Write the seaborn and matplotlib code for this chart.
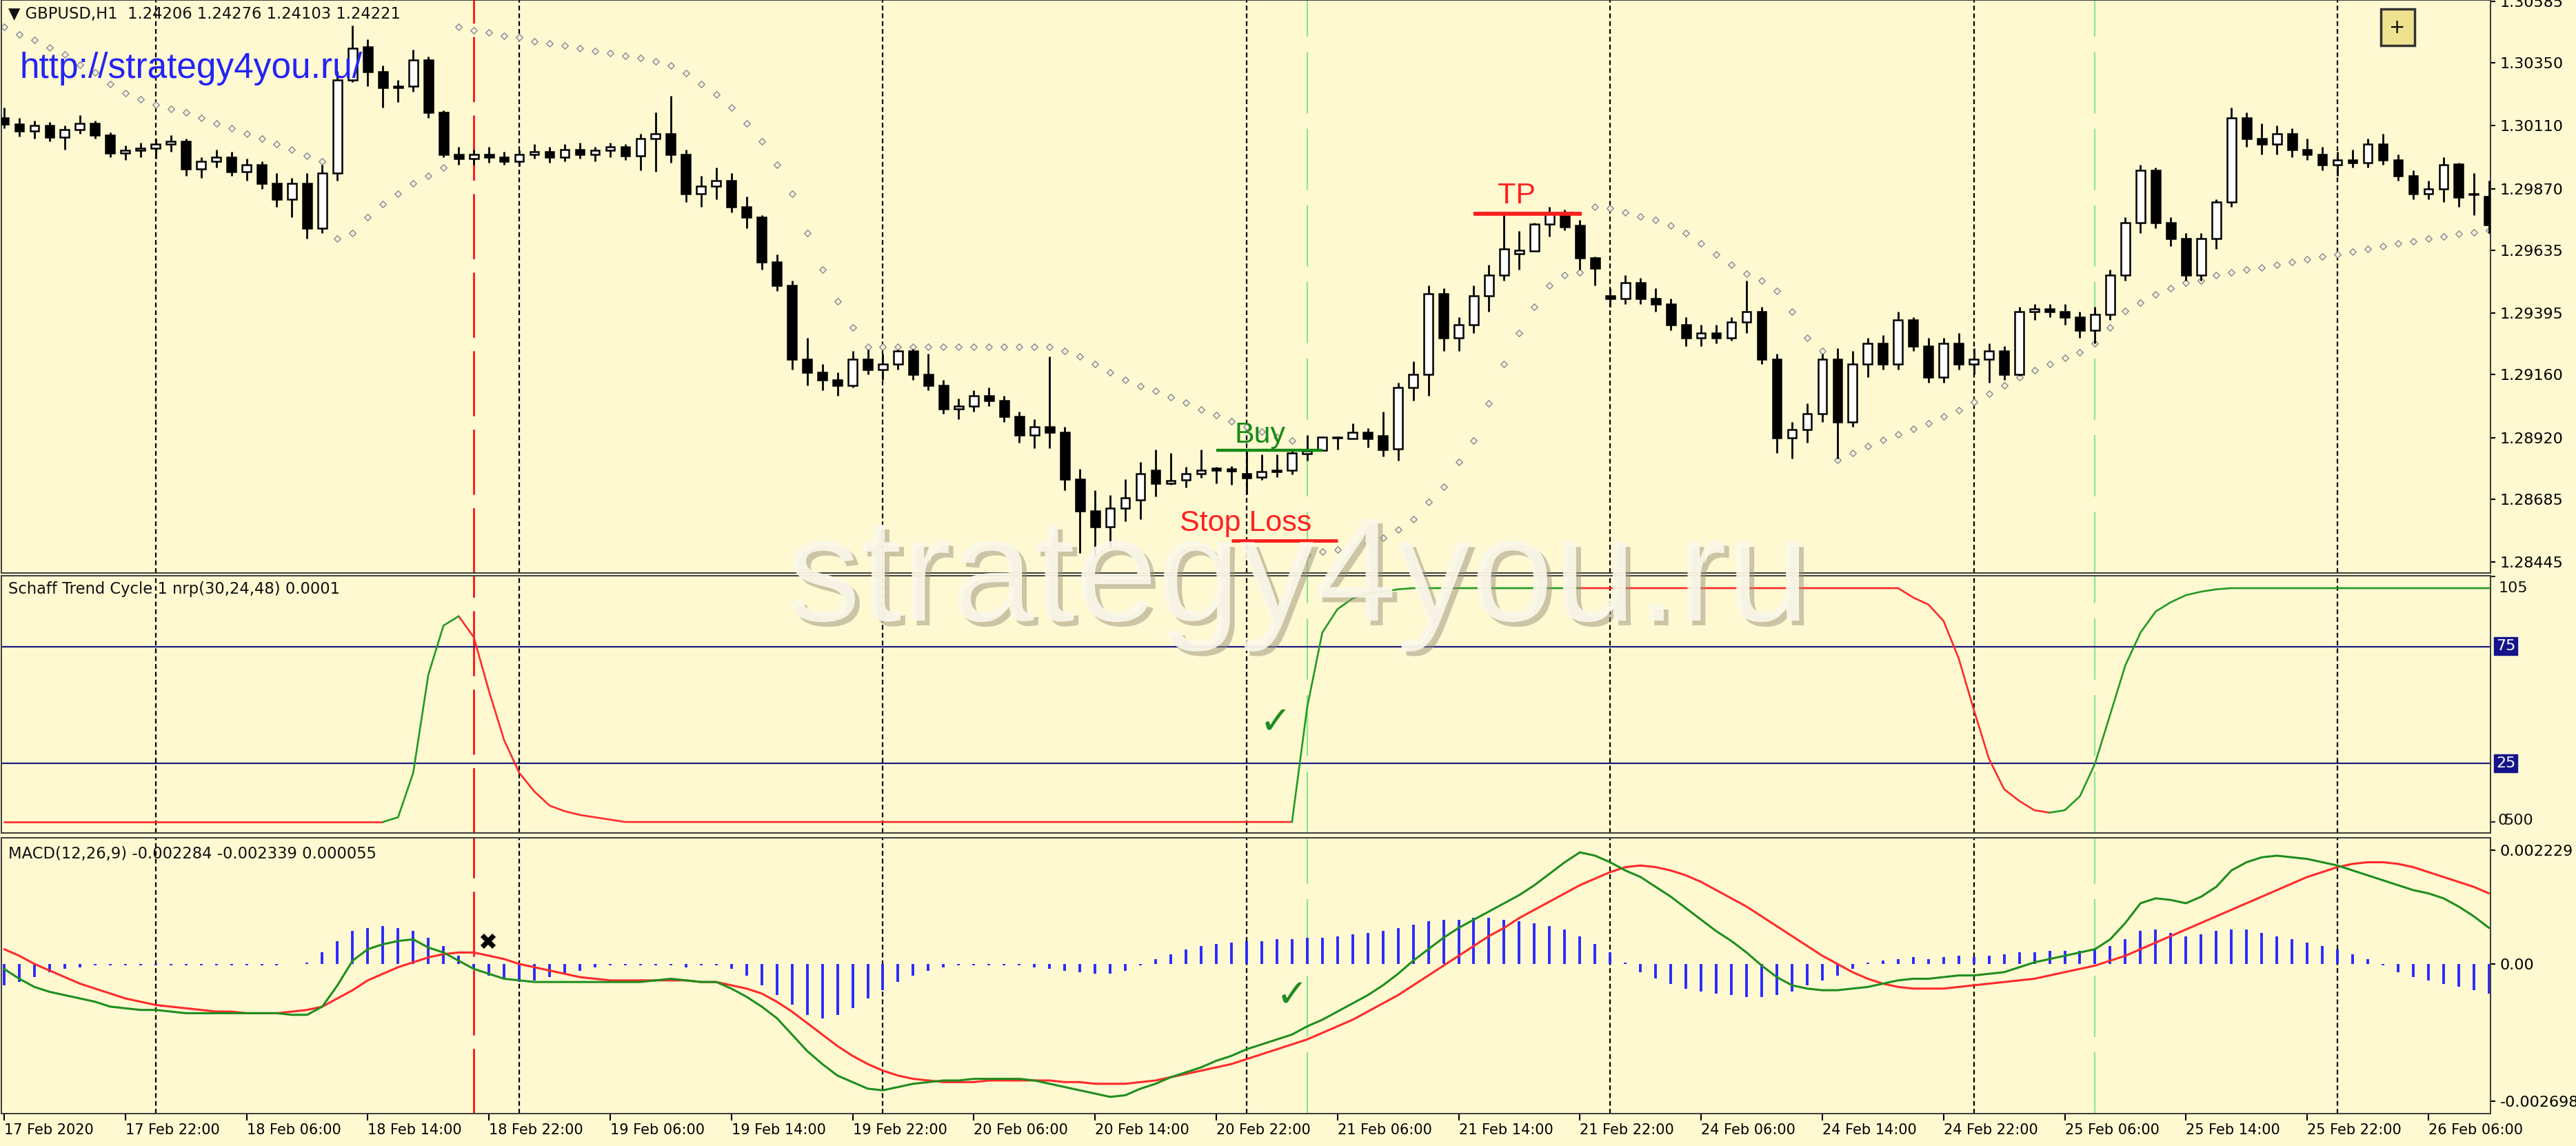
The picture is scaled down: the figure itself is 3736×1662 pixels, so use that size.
import numpy as np
import pandas as pd
import matplotlib
matplotlib.use("Agg")
import matplotlib.pyplot as plt
import matplotlib.patheffects as pe
from matplotlib.patches import Rectangle
import seaborn as sns

# ---------------- data ----------------
tick_labels = ["17 Feb 2020", "17 Feb 22:00", "18 Feb 06:00", "18 Feb 14:00", "18 Feb 22:00",
               "19 Feb 06:00", "19 Feb 14:00", "19 Feb 22:00", "20 Feb 06:00", "20 Feb 14:00",
               "20 Feb 22:00", "21 Feb 06:00", "21 Feb 14:00", "21 Feb 22:00", "24 Feb 06:00",
               "24 Feb 14:00", "24 Feb 22:00", "25 Feb 06:00", "25 Feb 14:00", "25 Feb 22:00",
               "26 Feb 06:00"]
tick_bars = [0, 8, 16, 24, 32, 40, 48, 56, 64, 72, 80, 88, 96, 104, 112, 120, 128, 136, 144, 152, 160]

opens = [
    1.30140, 1.30115, 1.30090, 1.30110, 1.30065, 1.30095, 1.30120, 1.30075, 1.30005, 1.30015,
    1.30025, 1.30040, 1.30050, 1.29945, 1.29975, 1.29990, 1.29935, 1.29960, 1.29890, 1.29830,
    1.29890, 1.29720, 1.29930, 1.30286, 1.30411, 1.30316, 1.30255, 1.30260, 1.30360, 1.30160,
    1.30000, 1.29985, 1.30000, 1.29990, 1.29975, 1.30000, 1.30010, 1.29990, 1.30020, 1.30000,
    1.30015, 1.30030, 1.29995, 1.30060, 1.30080, 1.30000, 1.29850, 1.29880, 1.29900, 1.29800,
    1.29760, 1.29590, 1.29500, 1.29220, 1.29170, 1.29140, 1.29120, 1.29220, 1.29180, 1.29200,
    1.29250, 1.29160, 1.29120, 1.29030, 1.29040, 1.29080, 1.29060, 1.29000, 1.28930, 1.28960,
    1.28940, 1.28760, 1.28640, 1.28580, 1.28650, 1.28683, 1.28794, 1.28744, 1.28757, 1.28783,
    1.28802, 1.28800, 1.28783, 1.28770, 1.28791, 1.28796, 1.28857, 1.28871, 1.28921, 1.28915,
    1.28939, 1.28926, 1.28878, 1.29111, 1.29160, 1.29470, 1.29300, 1.29350, 1.29460, 1.29540,
    1.29621, 1.29631, 1.29734, 1.29774, 1.29729, 1.29605, 1.29460, 1.29450, 1.29510, 1.29450,
    1.29430, 1.29350, 1.29300, 1.29320, 1.29300, 1.29360, 1.29400, 1.29220, 1.28920, 1.28950,
    1.29010, 1.29220, 1.28980, 1.29200, 1.29280, 1.29200, 1.29370, 1.29270, 1.29150, 1.29280,
    1.29200, 1.29220, 1.29250, 1.29160, 1.29400, 1.29410, 1.29400, 1.29380, 1.29330, 1.29390,
    1.29540, 1.29740, 1.29940, 1.29740, 1.29680, 1.29540, 1.29680, 1.29820, 1.30140, 1.30060,
    1.30040, 1.30080, 1.30020, 1.30000, 1.29960, 1.29980, 1.29970, 1.30040, 1.29980, 1.29920,
    1.29850, 1.29870, 1.29964, 1.29848, 1.29840]
highs = [
    1.30180, 1.30140, 1.30130, 1.30125, 1.30110, 1.30150, 1.30130, 1.30085, 1.30035, 1.30045,
    1.30060, 1.30075, 1.30060, 1.29990, 1.30020, 1.30010, 1.29985, 1.29975, 1.29930, 1.29910,
    1.29930, 1.29960, 1.30320, 1.30493, 1.30440, 1.30340, 1.30285, 1.30400, 1.30375, 1.30170,
    1.30030, 1.30020, 1.30030, 1.30010, 1.30015, 1.30040, 1.30030, 1.30040, 1.30045, 1.30030,
    1.30045, 1.30040, 1.30080, 1.30160, 1.30225, 1.30020, 1.29920, 1.29950, 1.29930, 1.29840,
    1.29770, 1.29620, 1.29520, 1.29300, 1.29200, 1.29170, 1.29250, 1.29255, 1.29240, 1.29255,
    1.29258, 1.29240, 1.29140, 1.29070, 1.29100, 1.29110, 1.29080, 1.29020, 1.28990, 1.29230,
    1.28960, 1.28800, 1.28720, 1.28700, 1.28760, 1.28828, 1.28873, 1.28862, 1.28807, 1.28873,
    1.28807, 1.28810, 1.28873, 1.28855, 1.28855, 1.28870, 1.28929, 1.28925, 1.28925, 1.28974,
    1.28955, 1.29018, 1.29130, 1.29210, 1.29500, 1.29490, 1.29380, 1.29500, 1.29580, 1.29774,
    1.29708, 1.29740, 1.29800, 1.29790, 1.29750, 1.29610, 1.29490, 1.29540, 1.29530, 1.29490,
    1.29450, 1.29380, 1.29350, 1.29350, 1.29380, 1.29520, 1.29420, 1.29240, 1.28980, 1.29050,
    1.29240, 1.29260, 1.29250, 1.29300, 1.29310, 1.29400, 1.29380, 1.29300, 1.29300, 1.29320,
    1.29260, 1.29280, 1.29270, 1.29420, 1.29430, 1.29430, 1.29430, 1.29400, 1.29420, 1.29560,
    1.29760, 1.29960, 1.29950, 1.29760, 1.29700, 1.29700, 1.29830, 1.30180, 1.30160, 1.30120,
    1.30110, 1.30100, 1.30060, 1.30030, 1.30010, 1.30020, 1.30060, 1.30080, 1.30000, 1.29940,
    1.29900, 1.29990, 1.29970, 1.29930, 1.29900]
lows = [
    1.30100, 1.30070, 1.30060, 1.30050, 1.30020, 1.30080, 1.30060, 1.29990, 1.29980, 1.29990,
    1.29985, 1.30010, 1.29920, 1.29910, 1.29950, 1.29920, 1.29900, 1.29870, 1.29800, 1.29760,
    1.29680, 1.29700, 1.29900, 1.30276, 1.30260, 1.30180, 1.30200, 1.30240, 1.30140, 1.29990,
    1.29960, 1.29960, 1.29970, 1.29960, 1.29955, 1.29985, 1.29970, 1.29975, 1.29985, 1.29975,
    1.29990, 1.29980, 1.29940, 1.29935, 1.29970, 1.29820, 1.29800, 1.29830, 1.29780, 1.29720,
    1.29560, 1.29480, 1.29180, 1.29120, 1.29100, 1.29080, 1.29110, 1.29160, 1.29140, 1.29180,
    1.29140, 1.29100, 1.29010, 1.28990, 1.29020, 1.29040, 1.28980, 1.28900, 1.28880, 1.28880,
    1.28720, 1.28480, 1.28470, 1.28500, 1.28600, 1.28609, 1.28696, 1.28741, 1.28730, 1.28767,
    1.28744, 1.28740, 1.28704, 1.28757, 1.28770, 1.28780, 1.28833, 1.28871, 1.28873, 1.28915,
    1.28881, 1.28847, 1.28833, 1.29060, 1.29080, 1.29250, 1.29250, 1.29320, 1.29400, 1.29520,
    1.29560, 1.29631, 1.29687, 1.29710, 1.29560, 1.29500, 1.29420, 1.29430, 1.29430, 1.29400,
    1.29330, 1.29270, 1.29270, 1.29280, 1.29290, 1.29320, 1.29200, 1.28860, 1.28840, 1.28900,
    1.28980, 1.28840, 1.28960, 1.29150, 1.29180, 1.29180, 1.29250, 1.29130, 1.29130, 1.29180,
    1.29160, 1.29130, 1.29140, 1.29155, 1.29370, 1.29380, 1.29350, 1.29300, 1.29280, 1.29370,
    1.29520, 1.29700, 1.29720, 1.29650, 1.29520, 1.29520, 1.29640, 1.29800, 1.30030, 1.30000,
    1.30000, 1.29990, 1.29980, 1.29940, 1.29920, 1.29950, 1.29950, 1.29960, 1.29900, 1.29830,
    1.29830, 1.29820, 1.29800, 1.29770, 1.29700]
closes = [
    1.30115, 1.30090, 1.30110, 1.30065, 1.30095, 1.30120, 1.30075, 1.30005, 1.30015, 1.30025,
    1.30040, 1.30050, 1.29945, 1.29975, 1.29990, 1.29935, 1.29960, 1.29890, 1.29830, 1.29890,
    1.29720, 1.29930, 1.30286, 1.30405, 1.30316, 1.30255, 1.30262, 1.30360, 1.30160, 1.30000,
    1.29985, 1.30000, 1.29990, 1.29975, 1.30000, 1.30010, 1.29990, 1.30020, 1.30000, 1.30015,
    1.30030, 1.29995, 1.30060, 1.30080, 1.30000, 1.29850, 1.29880, 1.29900, 1.29800, 1.29760,
    1.29590, 1.29500, 1.29220, 1.29170, 1.29140, 1.29120, 1.29220, 1.29180, 1.29200, 1.29250,
    1.29160, 1.29120, 1.29030, 1.29040, 1.29080, 1.29060, 1.29000, 1.28930, 1.28960, 1.28940,
    1.28760, 1.28640, 1.28580, 1.28650, 1.28690, 1.28783, 1.28744, 1.28755, 1.28783, 1.28794,
    1.28794, 1.28792, 1.28767, 1.28791, 1.28796, 1.28860, 1.28868, 1.28921, 1.28919, 1.28939,
    1.28915, 1.28873, 1.29111, 1.29160, 1.29470, 1.29300, 1.29350, 1.29460, 1.29540, 1.29640,
    1.29634, 1.29734, 1.29774, 1.29724, 1.29607, 1.29565, 1.29450, 1.29510, 1.29450, 1.29430,
    1.29350, 1.29300, 1.29320, 1.29300, 1.29360, 1.29400, 1.29220, 1.28920, 1.28950, 1.29010,
    1.29220, 1.28980, 1.29200, 1.29280, 1.29200, 1.29370, 1.29270, 1.29150, 1.29280, 1.29200,
    1.29220, 1.29250, 1.29160, 1.29400, 1.29410, 1.29400, 1.29380, 1.29330, 1.29390, 1.29540,
    1.29740, 1.29940, 1.29740, 1.29680, 1.29540, 1.29680, 1.29820, 1.30140, 1.30060, 1.30040,
    1.30080, 1.30020, 1.30000, 1.29960, 1.29980, 1.29970, 1.30040, 1.29980, 1.29920, 1.29850,
    1.29870, 1.29960, 1.29838, 1.29848, 1.29732]

sar = [
    1.30487, 1.30458, 1.30437, 1.30408, 1.30382, 1.30342, 1.30313, 1.30268, 1.30234, 1.30210,
    1.30190, 1.30175, 1.30160, 1.30140, 1.30120, 1.30100, 1.30080, 1.30060, 1.30040, 1.30020,
    1.29995, 1.29975, 1.29680, 1.29700, 1.29760, 1.29810, 1.29850, 1.29890, 1.29920, 1.29950,
    1.30487, 1.30474, 1.30466, 1.30453, 1.30448, 1.30432, 1.30424, 1.30416, 1.30405, 1.30395,
    1.30387, 1.30378, 1.30369, 1.30355, 1.30340, 1.30310, 1.30270, 1.30230, 1.30180, 1.30120,
    1.30050, 1.29960, 1.29850, 1.29700, 1.29560, 1.29440, 1.29340, 1.29265, 1.29265, 1.29265,
    1.29265, 1.29265, 1.29265, 1.29265, 1.29265, 1.29265, 1.29265, 1.29265, 1.29265, 1.29265,
    1.29250, 1.29230, 1.29200, 1.29170, 1.29140, 1.29115, 1.29098, 1.29074, 1.29053, 1.29026,
    1.29005, 1.28981, 1.28960, 1.28942, 1.28921, 1.28907, 1.28471, 1.28485, 1.28493, 1.28503,
    1.28516, 1.28537, 1.28569, 1.28609, 1.28675, 1.28733, 1.28828, 1.28907, 1.29050, 1.29200,
    1.29320, 1.29420, 1.29500, 1.29540, 1.29550, 1.29800, 1.29795, 1.29779, 1.29763, 1.29750,
    1.29730, 1.29700, 1.29660, 1.29620, 1.29580, 1.29545, 1.29520, 1.29480, 1.29400, 1.29300,
    1.29250, 1.28835, 1.28860, 1.28887, 1.28910, 1.28931, 1.28953, 1.28975, 1.29000, 1.29025,
    1.29055, 1.29088, 1.29120, 1.29150, 1.29176, 1.29201, 1.29223, 1.29245, 1.29280, 1.29340,
    1.29403, 1.29435, 1.29466, 1.29490, 1.29510, 1.29520, 1.29540, 1.29550, 1.29560, 1.29570,
    1.29580, 1.29590, 1.29600, 1.29610, 1.29620, 1.29630, 1.29640, 1.29650, 1.29660, 1.29670,
    1.29680, 1.29688, 1.29697, 1.29702, 1.29710]

stc = [
    0, 0, 0, 0, 0, 0, 0, 0, 0, 0,
    0, 0, 0, 0, 0, 0, 0, 0, 0, 0,
    0, 0, 0, 0, 0, 0, 2, 21, 63, 84,
    88, 79, 56, 35, 21, 13, 7, 4.6, 3, 2,
    1, 0, 0, 0, 0, 0, 0, 0, 0, 0,
    0, 0, 0, 0, 0, 0, 0, 0, 0, 0,
    0, 0, 0, 0, 0, 0, 0, 0, 0, 0,
    0, 0, 0, 0, 0, 0, 0, 0, 0, 0,
    0, 0, 0, 0, 0, 0, 49, 81, 91, 95.6,
    98, 98.5, 99.5, 100, 100, 100, 100, 100, 100, 100,
    100, 100, 100, 100, 100, 100, 100, 100, 100, 100,
    100, 100, 100, 100, 100, 100, 100, 100, 100, 100,
    100, 100, 100, 100, 100, 100, 96, 93, 86, 70,
    48, 27, 14, 9, 5, 4, 5, 11, 25, 46,
    67, 81, 90, 94, 97, 98.5, 99.5, 100, 100, 100,
    100, 100, 100, 100, 100, 100, 100, 100, 100, 100,
    100, 100, 100, 100, 100]
stc_green_ranges = [(25, 30), (85, 104), (135, 164)]
stc_red_ranges = [(0, 25), (30, 85), (104, 135)]

macd_main = [
    -0.000097, -0.000290, -0.000451, -0.000547, -0.000612, -0.000676, -0.000741, -0.000837, -0.000869, -0.000902,
    -0.000902, -0.000934, -0.000966, -0.000966, -0.000966, -0.000966, -0.000966, -0.000966, -0.000966, -0.000998,
    -0.000998, -0.000837, -0.000419, 0.000064, 0.000290, 0.000386, 0.000451, 0.000483, 0.000322, 0.000225,
    0.000064, -0.000097, -0.000193, -0.000290, -0.000322, -0.000354, -0.000354, -0.000354, -0.000354, -0.000354,
    -0.000354, -0.000354, -0.000354, -0.000322, -0.000290, -0.000322, -0.000354, -0.000354, -0.000483, -0.000644,
    -0.000837, -0.001063, -0.001385, -0.001707, -0.001964, -0.002190, -0.002318, -0.002447, -0.002479, -0.002415,
    -0.002351, -0.002318, -0.002286, -0.002286, -0.002254, -0.002254, -0.002254, -0.002254, -0.002286, -0.002351,
    -0.002415, -0.002479, -0.002544, -0.002608, -0.002576, -0.002447, -0.002351, -0.002222, -0.002125, -0.002029,
    -0.001900, -0.001803, -0.001674, -0.001578, -0.001481, -0.001385, -0.001224, -0.001095, -0.000934, -0.000773,
    -0.000612, -0.000419, -0.000193, 0.000064, 0.000290, 0.000515, 0.000708, 0.000869, 0.001030, 0.001191,
    0.001352, 0.001546, 0.001771, 0.001996, 0.002190, 0.002125, 0.001996, 0.001835, 0.001707, 0.001513,
    0.001320, 0.001095, 0.000869, 0.000644, 0.000451, 0.000225, -0.000032, -0.000258, -0.000419, -0.000483,
    -0.000515, -0.000515, -0.000483, -0.000451, -0.000386, -0.000322, -0.000290, -0.000290, -0.000258, -0.000225,
    -0.000225, -0.000193, -0.000161, -0.000064, 0.000032, 0.000097, 0.000161, 0.000225, 0.000290, 0.000483,
    0.000805, 0.001191, 0.001288, 0.001256, 0.001191, 0.001320, 0.001513, 0.001835, 0.001996, 0.002093,
    0.002125, 0.002093, 0.002061, 0.001996, 0.001932, 0.001835, 0.001739, 0.001642, 0.001546, 0.001449,
    0.001385, 0.001288, 0.001127, 0.000934, 0.000708]
macd_signal = [
    0.000290, 0.000161, 0.000000, -0.000129, -0.000258, -0.000386, -0.000483, -0.000580, -0.000676, -0.000741,
    -0.000805, -0.000837, -0.000869, -0.000902, -0.000934, -0.000934, -0.000966, -0.000966, -0.000966, -0.000934,
    -0.000902, -0.000837, -0.000676, -0.000515, -0.000322, -0.000193, -0.000064, 0.000032, 0.000129, 0.000193,
    0.000225, 0.000225, 0.000161, 0.000097, 0.000000, -0.000064, -0.000129, -0.000193, -0.000258, -0.000290,
    -0.000322, -0.000322, -0.000322, -0.000322, -0.000322, -0.000322, -0.000354, -0.000354, -0.000419, -0.000483,
    -0.000580, -0.000741, -0.000934, -0.001159, -0.001385, -0.001610, -0.001803, -0.001964, -0.002093, -0.002190,
    -0.002254, -0.002286, -0.002318, -0.002318, -0.002318, -0.002286, -0.002286, -0.002286, -0.002286, -0.002286,
    -0.002318, -0.002318, -0.002351, -0.002351, -0.002351, -0.002318, -0.002286, -0.002222, -0.002157, -0.002093,
    -0.002029, -0.001964, -0.001868, -0.001771, -0.001674, -0.001578, -0.001481, -0.001352, -0.001224, -0.001095,
    -0.000934, -0.000773, -0.000612, -0.000419, -0.000225, -0.000032, 0.000161, 0.000354, 0.000547, 0.000708,
    0.000902, 0.001063, 0.001224, 0.001385, 0.001546, 0.001674, 0.001803, 0.001900, 0.001932, 0.001900,
    0.001835, 0.001739, 0.001610, 0.001449, 0.001288, 0.001127, 0.000934, 0.000741, 0.000547, 0.000354,
    0.000161, 0.000000, -0.000161, -0.000290, -0.000386, -0.000451, -0.000483, -0.000483, -0.000483, -0.000451,
    -0.000419, -0.000386, -0.000354, -0.000322, -0.000290, -0.000225, -0.000161, -0.000097, -0.000032, 0.000064,
    0.000161, 0.000290, 0.000419, 0.000547, 0.000676, 0.000805, 0.000934, 0.001063, 0.001191, 0.001320,
    0.001449, 0.001578, 0.001707, 0.001803, 0.001900, 0.001964, 0.001996, 0.001996, 0.001964, 0.001900,
    0.001803, 0.001707, 0.001610, 0.001513, 0.001385]
macd_hist = [
    -0.000419, -0.000354, -0.000258, -0.000161, -0.000097, -0.000064, -0.000032, -0.000032, -0.000032, -0.000032,
    -0.000032, -0.000032, -0.000032, -0.000032, -0.000032, -0.000032, -0.000032, -0.000032, -0.000032, 0.000000,
    0.000032, 0.000225, 0.000451, 0.000644, 0.000708, 0.000741, 0.000708, 0.000644, 0.000515, 0.000354,
    0.000161, -0.000097, -0.000225, -0.000290, -0.000354, -0.000322, -0.000258, -0.000193, -0.000129, -0.000064,
    -0.000032, -0.000032, -0.000032, -0.000032, -0.000032, -0.000064, -0.000032, -0.000032, -0.000097, -0.000225,
    -0.000419, -0.000612, -0.000805, -0.000998, -0.001063, -0.000998, -0.000869, -0.000676, -0.000515, -0.000354,
    -0.000225, -0.000129, -0.000064, -0.000032, -0.000032, -0.000032, -0.000032, -0.000032, -0.000064, -0.000097,
    -0.000129, -0.000161, -0.000193, -0.000193, -0.000129, -0.000032, 0.000097, 0.000193, 0.000290, 0.000354,
    0.000386, 0.000419, 0.000451, 0.000451, 0.000483, 0.000483, 0.000515, 0.000515, 0.000547, 0.000580,
    0.000612, 0.000644, 0.000708, 0.000773, 0.000837, 0.000869, 0.000869, 0.000902, 0.000902, 0.000869,
    0.000837, 0.000805, 0.000741, 0.000676, 0.000547, 0.000386, 0.000225, 0.000032, -0.000161, -0.000290,
    -0.000386, -0.000483, -0.000547, -0.000580, -0.000612, -0.000644, -0.000644, -0.000612, -0.000547, -0.000419,
    -0.000322, -0.000225, -0.000097, 0.000032, 0.000064, 0.000097, 0.000129, 0.000097, 0.000129, 0.000161,
    0.000129, 0.000161, 0.000193, 0.000225, 0.000225, 0.000258, 0.000258, 0.000258, 0.000290, 0.000354,
    0.000483, 0.000644, 0.000676, 0.000612, 0.000547, 0.000580, 0.000644, 0.000676, 0.000676, 0.000612,
    0.000547, 0.000483, 0.000419, 0.000354, 0.000290, 0.000193, 0.000097, -0.000032, -0.000161, -0.000258,
    -0.000322, -0.000386, -0.000451, -0.000515, -0.000580]

separators = [10, 34, 58, 82, 106, 130, 154]
red_marker_bar = 31
green_marker_bars = [86, 138]
price_ticks = [1.30585, 1.30350, 1.30110, 1.29870, 1.29635, 1.29395, 1.29160, 1.28920, 1.28685, 1.28445]
macd_ticks = [0.002229, 0.0, -0.002698]
macd_tick_labels = ["0.002229", "0.00", "-0.002698"]
buy_level, buy_span = 1.28872, (80.0, 87.0)
stop_level, stop_span = 1.28527, (81.0, 88.0)
tp_level, tp_span = 1.29774, (97.0, 104.1)

# ---------------- figure ----------------
W, H = 3736, 1662
BG = "#FFF9D2"
sns.set_theme(style="white", rc={"axes.facecolor": BG, "figure.facecolor": BG})
plt.rcParams["font.family"] = ["DejaVu Sans"]

fig = plt.figure(figsize=(W / 100, H / 100), dpi=100)
fig.patch.set_facecolor(BG)


def add_ax(l, t, r, b):
    return fig.add_axes([l / W, 1 - b / H, (r - l) / W, (b - t) / H])


def ftext(x, y, s, **kw):
    return fig.text(x / W, 1 - y / H, s, **kw)


ax1 = add_ax(2, 0, 3612, 831)
ax2 = add_ax(2, 835, 3612, 1208)
ax3 = add_ax(2, 1215, 3612, 1615)

idx = np.arange(len(closes))
o, h, l, c = (np.array(v) for v in (opens, highs, lows, closes))

for ax in (ax1, ax2, ax3):
    ax.set_facecolor(BG)
    ax.set_xlim(-0.18, 164.1)
    for s in ax.spines.values():
        s.set_color("#3a3a3a")
        s.set_linewidth(1.4)
    ax.grid(False)
    for sp in separators:
        ax.axvline(sp, color="black", lw=1.6, ls=(0, (3.1, 2.0)), zorder=1)
    ax.axvline(red_marker_bar, color="#FF1010", lw=2.0, ls=(0, (34, 7)), zorder=1)
    for gb in green_marker_bars:
        ax.axvline(gb, color="#8EE68E", lw=1.6, ls=(0, (40, 10)), zorder=1)

# ---- main price panel ----
ax1.set_ylim(1.28403, 1.30590)
sns.scatterplot(x=idx, y=sar, ax=ax1, marker="D", s=24, color="#F4F0DC",
                edgecolor="#8A8A8A", linewidth=1.0, zorder=2, legend=False)
ax1.vlines(idx, l, h, color="black", lw=2.0, zorder=3)
up = c >= o
body_bottom = np.minimum(o, c)
body_h = np.maximum(np.abs(c - o), 0.00002)
ax1.bar(idx, body_h, bottom=body_bottom, width=0.58,
        color=np.where(up, "white", "black"), edgecolor="black", linewidth=1.8, zorder=4)

ax1.hlines(buy_level, *buy_span, color="#168A16", lw=3.2, zorder=5)
ax1.hlines(stop_level, *stop_span, color="#FF2020", lw=3.6, zorder=5)
ax1.hlines(tp_level, *tp_span, color="#FF2020", lw=4.2, zorder=5)
ax1.text(82.9, 1.28900, "Buy", color="#168A16", fontsize=31, family="Liberation Sans",
         ha="center", va="baseline", zorder=6)
ax1.text(81.96, 1.28563, "Stop Loss", color="#FF2020", fontsize=31, family="Liberation Sans",
         ha="center", va="baseline", zorder=6)
ax1.text(99.84, 1.29814, "TP", color="#FF2020", fontsize=31, family="Liberation Sans",
         ha="center", va="baseline", zorder=6)

ax1.yaxis.tick_right()
ax1.set_yticks(price_ticks)
ax1.set_yticklabels([f"{v:.5f}" for v in price_ticks])
ax1.tick_params(axis="y", right=True, left=False, direction="out", length=5, width=1.5,
                pad=5, labelsize=16, colors="black")
ax1.tick_params(axis="x", bottom=False, labelbottom=False)

# ---- STC panel ----
ax2.set_ylim(-4.7, 105.3)
ax2.axhline(75, color="#1C1C80", lw=1.6, zorder=1)
ax2.axhline(25, color="#1C1C80", lw=1.6, zorder=1)
stc_arr = np.array(stc)
for a, b in stc_red_ranges:
    sns.lineplot(x=idx[a:b + 1], y=stc_arr[a:b + 1], ax=ax2, color="#FF2A2A", lw=1.9,
                 sort=False, estimator=None, zorder=3)
for a, b in stc_green_ranges:
    sns.lineplot(x=idx[a:b + 1], y=stc_arr[a:b + 1], ax=ax2, color="#229A22", lw=1.9,
                 sort=False, estimator=None, zorder=3)
ax2.yaxis.tick_right()
ax2.set_yticks([105, 0])
ax2.set_yticklabels(["", ""])
ax2.tick_params(axis="y", right=True, left=False, direction="out", length=5, width=1.5)
ax2.tick_params(axis="x", bottom=False, labelbottom=False)
ax2.set_xlabel("")
ax2.set_ylabel("")
ax2.text(83.9, 42.4, "\u2713", color="#1E8C1E", fontsize=40, fontweight="bold",
         ha="center", va="center", zorder=6)

# ---- MACD panel ----
ax3.set_ylim(-0.002936, 0.002476)
ax3.vlines(idx, 0, macd_hist, color="#2A2AFF", lw=2.8, zorder=2)
sns.lineplot(x=idx, y=macd_signal, ax=ax3, color="#FF2A2A", lw=2.2, sort=False, estimator=None, zorder=3)
sns.lineplot(x=idx, y=macd_main, ax=ax3, color="#1E8E1E", lw=2.2, sort=False, estimator=None, zorder=4)
ax3.text(85.0, -0.000636, "\u2713", color="#1E8C1E", fontsize=40, fontweight="bold",
         ha="center", va="center", zorder=6)
ax3.text(31.9, 0.000419, "\u2716", color="black", fontsize=24,
         ha="center", va="center", zorder=6)
ax3.yaxis.tick_right()
ax3.set_yticks(macd_ticks)
ax3.set_yticklabels(macd_tick_labels)
ax3.tick_params(axis="y", right=True, left=False, direction="out", length=5, width=1.5,
                pad=5, labelsize=16, colors="black")
ax3.set_xticks(tick_bars)
ax3.set_xticklabels(tick_labels, ha="left")
ax3.tick_params(axis="x", bottom=True, direction="out", length=7, width=1.5, pad=3,
                labelsize=15, colors="black")
ax3.set_xlabel("")
ax3.set_ylabel("")

# ---- texts ----
ftext(12, 20, "\u25BC GBPUSD,H1  1.24206 1.24276 1.24103 1.24221", fontsize=16.3, va="center", color="#111111")
ftext(29, 113, "http://strategy4you.ru/", fontsize=37, color="#2323F5", family="Liberation Sans", va="baseline")
ftext(12, 855, "Schaff Trend Cycle 1 nrp(30,24,48) 0.0001", fontsize=16.3, va="center", color="#111111")
ftext(12, 1238, "MACD(12,26,9) -0.002284 -0.002339 0.000055", fontsize=16.3, va="center", color="#111111")

ftext(3624, 853, "105", fontsize=16, va="center", color="#111111")
for yv, lab in ((937, "75"), (1107, "25")):
    ftext(3620, yv, lab, fontsize=16, va="center", color="white",
          bbox=dict(boxstyle="square,pad=0.12", fc="#14148C", ec="#14148C"))
ftext(3623, 1190, "0", fontsize=16, va="center", color="#111111")
ftext(3631, 1190, "500", fontsize=16, va="center", color="#111111")

# plus button
fig.patches.append(Rectangle((3453 / W, 1 - 66 / H), 49 / W, 53 / H, transform=fig.transFigure,
                             fc="#EEE290", ec="#333333", lw=2.5, zorder=20))
ftext(3477, 40, "+", fontsize=20, ha="center", va="center", color="black", zorder=21)

# watermark
ftext(1882, 900, "strategy4you.ru", fontsize=155, family="Liberation Sans", color="#FBF8EA",
      ha="center", va="baseline", alpha=0.92, zorder=30,
      path_effects=[pe.SimplePatchShadow(offset=(5, -5), shadow_rgbFace="#9A927A", alpha=0.5),
                    pe.Normal()])

fig.savefig("out.png", dpi=100, facecolor=BG)
